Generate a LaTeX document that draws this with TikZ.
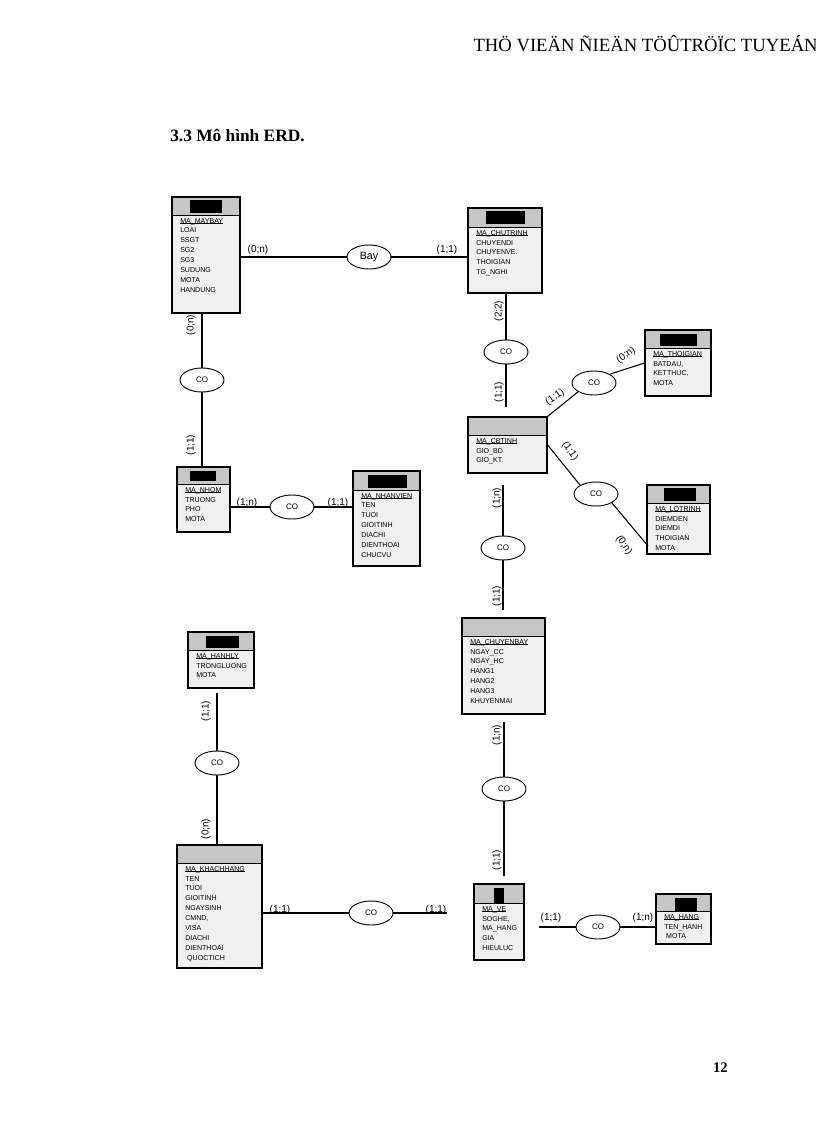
\documentclass[tikz,border=0pt]{standalone}
\usepackage{fontspec}
\setmainfont{Liberation Serif}
\newfontfamily\arialf{Liberation Sans}
\usetikzlibrary{fit,shapes.geometric}
\tikzset{
  ent/.style={draw,line width=0.9pt,inner sep=0pt},
  hdr/.style={fill=gray!45},
  body/.style={fill=gray!12},
  attr/.style={inner sep=0pt,align=left,font=\arialf\fontsize{5.3}{7.4}\selectfont},
  rel/.style={draw,ellipse,line width=0.7pt,minimum width=33pt,minimum height=18pt,inner sep=0pt,font=\arialf\fontsize{6}{7}\selectfont},
  card/.style={inner sep=0pt,font=\arialf\fontsize{7.5}{8}\selectfont},
  conn/.style={line width=0.8pt},
}
\newcommand\ul[1]{\rlap{\rule[-0.5pt]{\widthof{#1}}{0.3pt}}#1}
\usepackage{calc}
\newcommand\entity[7]{%
  \fill[body] (#2,#3) rectangle (#4,#5);
  \fill[hdr] (#2,#3) rectangle (#4,#6);
  \draw[line width=0.6pt] (#2,#6) -- (#4,#6);
  \node[ent,fit={(#2,#3)(#4,#5)}] (#1) {};
  \node[attr,anchor=north west] at (#2+8,#6+3) {#7};
}
\begin{document}
\begin{tikzpicture}[x=0.75pt,y=-0.75pt]
\useasboundingbox (0,0) rectangle (816,1123);
\fill[white] (0,0) rectangle (816,1123);
% header, title, page number
\node[anchor=base east,inner sep=0pt,font=\fontsize{14}{15}\selectfont] (hd) at (818,52) {THÖ VIEÄN ÑIEÄN TÖÛTRÖÏC TUYEÁN};
\node[anchor=base west,inner sep=0pt,font=\bfseries\fontsize{13}{14}\selectfont] (tt) at (170,142) {3.3 Mô hình ERD.};
\node[anchor=base east,inner sep=0pt,font=\bfseries\fontsize{11}{12}\selectfont] (pg) at (728,1072) {12};

% entities
\entity{maybay}{172}{197}{240}{313}{215}{\ul{MA\_MAYBAY}\\LOAI\\SSGT\\SG2\\SG3\\SUDUNG\\MOTA\\HANDUNG}
\fill (190,200) rectangle (222,213);
\entity{chutrinh}{468}{208}{542}{293}{227}{\ul{MA\_CHUTRINH}\\CHUYENDI\\CHUYENVE.\\THOIGIAN\\TG\_NGHI}
\fill (486,211) rectangle (525,224);
\entity{thoigian}{645}{330}{711}{396}{348}{\ul{MA\_THOIGIAN}\\BATDAU,\\KETTHUC,\\MOTA}
\fill (660,334) rectangle (697,346);
\entity{cbtinh}{468}{417}{547}{473}{435}{\ul{MA\_CBTINH}\\GIO\_BD\\GIO\_KT.}
\entity{lotrinh}{647}{485}{710}{554}{503}{\ul{MA\_LOTRINH}\\DIEMDEN\\DIEMDI\\THOIGIAN\\MOTA}
\fill (664,488) rectangle (696,501);
\entity{nhom}{177}{467}{230}{532}{484}{\ul{MA\_NHOM}\\TRUONG\\PHO\\MOTA}
\fill (190,471) rectangle (216,481);
\entity{nhanvien}{353}{471}{420}{566}{490}{\ul{MA\_NHANVIEN}\\ TEN\\ TUOI\\ GIOITINH\\ DIACHI\\ DIENTHOAI\\ CHUCVU}
\fill (368,475) rectangle (407,488);
\entity{hanhly}{188}{632}{254}{688}{650}{\ul{MA\_HANHLY}\\TRONGLUONG\\MOTA}
\fill (206,636) rectangle (239,648);
\entity{chuyenbay}{462}{618}{545}{714}{636}{\ul{MA\_CHUYENBAY}\\NGAY\_CC\\NGAY\_HC\\HANG1\\HANG2\\HANG3\\KHUYENMAI}
\entity{khachhang}{177}{845}{262}{968}{863}{\ul{MA\_KHACHHANG}\\TEN\\TUOI\\GIOITINH\\NGAYSINH\\CMND,\\VISA\\DIACHI\\DIENTHOAI\\ \ QUOCTICH}
\entity{ve}{474}{884}{524}{960}{903}{\ul{MA\_VE}\\SOGHE,\\MA\_HANG\\GIA\\HIEULUC}
\fill (494,888) rectangle (504,903);
\entity{hang}{656}{894}{711}{944}{911}{\ul{MA\_HANG}\\TEN\_HANH\\ \ MOTA}
\fill (675,898) rectangle (697,911);

% relationships
\node[rel,font=\arialf\fontsize{8}{9}\selectfont] (bay) at (369,257) {Bay};
\node[rel] (co1) at (202,380) {CO};
\node[rel] (co2) at (506,352) {CO};
\node[rel] (co3) at (594,383) {CO};
\node[rel] (co4) at (596,494) {CO};
\node[rel] (co5) at (292,507) {CO};
\node[rel] (co6) at (503,548) {CO};
\node[rel] (co7) at (217,763) {CO};
\node[rel] (co8) at (504,789) {CO};
\node[rel] (co9) at (371,913) {CO};
\node[rel] (co10) at (598,927) {CO};

% helper coordinates
\coordinate (c2a) at (506,407);
\coordinate (c6a) at (503,485);
\coordinate (c6b) at (503,610);
\coordinate (c7a) at (217,693);
\coordinate (c8a) at (504,722);
\coordinate (c8b) at (504,876);
\coordinate (c9b) at (447,913);
\coordinate (c10a) at (539,927);
\coordinate (c4b) at (648,546);

% connectors
\draw[conn] (maybay.east |- bay) -- (bay.west);
\draw[conn] (bay.east) -- (chutrinh.west |- bay);
\draw[conn] (maybay.south -| co1) -- (co1.north);
\draw[conn] (co1.south) -- (nhom.north -| co1);
\draw[conn] (chutrinh.south -| co2) -- (co2.north);
\draw[conn] (co2.south) -- (c2a);
\draw[conn] (cbtinh.north east) -- (co3.south west);
\draw[conn] (co3.north east) -- (thoigian.west);
\draw[conn] (cbtinh.east) -- (co4.north west);
\draw[conn] (co4.south east) -- (c4b);
\draw[conn] (nhom.east |- co5) -- (co5.west);
\draw[conn] (co5.east) -- (nhanvien.west |- co5);
\draw[conn] (c6a) -- (co6.north);
\draw[conn] (co6.south) -- (c6b);
\draw[conn] (c7a) -- (co7.north);
\draw[conn] (co7.south) -- (khachhang.north -| co7);
\draw[conn] (c8a) -- (co8.north);
\draw[conn] (co8.south) -- (c8b);
\draw[conn] (khachhang.east |- co9) -- (co9.west);
\draw[conn] (co9.east) -- (c9b);
\draw[conn] (c10a) -- (co10.west);
\draw[conn] (co10.east) -- (hang.west |- co10);

% cardinalities
\node[card] (k1) at (258,250) {(0;n)};
\node[card] (k2) at (447,250) {(1;1)};
\node[card,rotate=90] (k3) at (191,325) {(0;n)};
\node[card,rotate=90] (k4) at (191,445) {(1;1)};
\node[card,rotate=90] (k5) at (499,311) {(2;2)};
\node[card,rotate=90] (k6) at (499,392) {(1;1)};
\node[card,rotate=35] (k7) at (555,397) {(1;1)};
\node[card,rotate=35] (k8) at (626,355) {(0;n)};
\node[card,rotate=-55] (k9) at (570,451) {(1;1)};
\node[card,rotate=-55] (k10) at (624,545) {(0;n)};
\node[card] (k11) at (247,503) {(1;n)};
\node[card] (k12) at (338,503) {(1;1)};
\node[card,rotate=90] (k13) at (497,498) {(1;n)};
\node[card,rotate=90] (k14) at (497,596) {(1;1)};
\node[card,rotate=90] (k15) at (206,711) {(1;1)};
\node[card,rotate=90] (k16) at (206,829) {(0;n)};
\node[card,rotate=90] (k17) at (497,735) {(1;n)};
\node[card,rotate=90] (k18) at (497,860) {(1;1)};
\node[card] (k19) at (280,910) {(1;1)};
\node[card] (k20) at (436,910) {(1;1)};
\node[card] (k21) at (551,918) {(1;1)};
\node[card] (k22) at (643,918) {(1;n)};
\end{tikzpicture}
\end{document}
